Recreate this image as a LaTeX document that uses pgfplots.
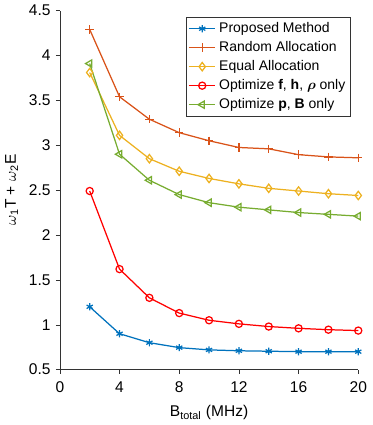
\documentclass[border=0pt]{standalone}
\usepackage{fontspec}
\usepackage{amsmath}
\usepackage{bm}
\setmainfont{Liberation Sans}
\usepackage{pgfplots}
\pgfplotsset{compat=1.18}
\definecolor{mblue}{rgb}{0,0.447,0.741}
\definecolor{morange}{rgb}{0.85,0.325,0.098}
\definecolor{myellow}{rgb}{0.929,0.694,0.125}
\definecolor{mgreen}{rgb}{0.466,0.674,0.188}
\begin{document}
\begin{tikzpicture}
\begin{axis}[
    scale only axis,
    width=192pt, height=231pt,
    xmin=0, xmax=20, ymin=0.5, ymax=4.5,
    xtick={0,4,...,20},
    ytick={0.5,1,...,4.5},
    axis lines=left,
    axis line style={-, draw=black!80},
    tick align=outside,
    major tick length=2.5pt,
    tick style={black!80},
    /pgf/number format/assume math mode=true,
    xticklabel style={yshift=-2pt},
    xlabel={B\textsubscript{total} (MHz)},
    ylabel={$\omega$\textsubscript{1}T + $\omega$\textsubscript{2}E},
    xlabel style={yshift=-1pt},
    legend style={at={(0.976,0.983)}, anchor=north east, font=\small,
        draw=black!80, row sep=0.2pt, inner sep=1.5pt},
    legend cell align=left,
    every axis plot/.append style={thick, mark size=2.3pt},
]
% Proposed Method
\addplot[color=mblue, mark=asterisk] coordinates {
(2,1.20) (4,0.90) (6,0.80) (8,0.745) (10,0.72) (12,0.71) (14,0.705) (16,0.70) (18,0.70) (20,0.70)};
\addlegendentry{Proposed Method}
% Random Allocation
\addplot[color=morange, mark=+, mark size=2.7pt] coordinates {
(2,4.29) (4,3.54) (6,3.29) (8,3.14) (10,3.05) (12,2.975) (14,2.96) (16,2.895) (18,2.87) (20,2.86)};
\addlegendentry{Random Allocation}
% Equal Allocation
\addplot[color=myellow, mark=diamond, mark size=2.7pt] coordinates {
(2,3.81) (4,3.11) (6,2.85) (8,2.71) (10,2.63) (12,2.57) (14,2.52) (16,2.49) (18,2.46) (20,2.44)};
\addlegendentry{Equal Allocation}
% Optimize f, h, rho
\addplot[color=red, mark=o] coordinates {
(2,2.49) (4,1.62) (6,1.30) (8,1.13) (10,1.05) (12,1.01) (14,0.98) (16,0.96) (18,0.945) (20,0.935)};
\addlegendentry{Optimize $\mathbf{f}$, $\mathbf{h}$, $\bm{\rho}$ only}
% Optimize p, B
\addplot[color=mgreen, mark=triangle, mark options={rotate=90}, mark size=2.7pt] coordinates {
(2,3.91) (4,2.90) (6,2.61) (8,2.45) (10,2.36) (12,2.31) (14,2.28) (16,2.25) (18,2.23) (20,2.21)};
\addlegendentry{Optimize $\mathbf{p}$, $\mathbf{B}$ only}
\end{axis}
\path (current axis.south east) ++(9pt,-6pt);
\end{tikzpicture}
\end{document}
